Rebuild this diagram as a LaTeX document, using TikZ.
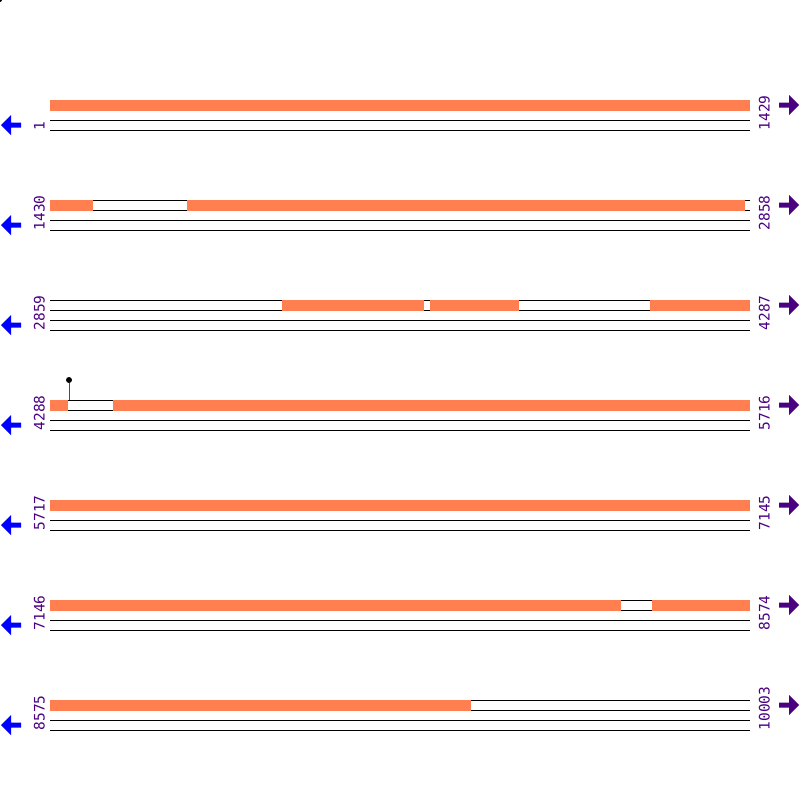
\documentclass[tikz,border=0pt]{standalone}
\usepackage{fontspec}
\setmonofont{DejaVu Sans Mono}
\usetikzlibrary{positioning}
\definecolor{orfcol}{HTML}{FF7F50}
\definecolor{poscol}{HTML}{4B0082}

\begin{document}
\begin{tikzpicture}[
   x=1pt,y=-1pt,
   strand/.style={draw=black,line width=1pt},
   orf/.style={fill=orfcol},
   coordlbl/.style={font=\ttfamily\fontsize{14.5}{14.5}\selectfont,text=poscol,
               rotate=90,anchor=base west,inner sep=0pt},
   fwd/.style={fill=poscol},
   rev/.style={fill=blue}
 ]
  \useasboundingbox (0,0) rectangle (800,800);
  \fill (0,0) circle (2);
  % seven rows of 1429 bp
  \foreach \r/\a/\b in {1/1/1429,2/1430/2858,3/2859/4287,4/4288/5716,
                        5/5717/7145,6/7146/8574,7/8575/10003}{
    \pgfmathtruncatemacro\y{100*\r}
    \foreach \d in {0,10,20,30}
      \draw[strand] (50,\y+\d) -- (750,\y+\d);
    \node[coordlbl] (start\r) at (44.5,\y+30.5) {\a};
    \node[coordlbl] (end\r) at (769.5,\y+30.5) {\b};
    \fill[rev] (1,\y+25) -- (11,\y+15) -- (11,\y+22.5) -- (21,\y+22.5)
       -- (21,\y+27.5) -- (11,\y+27.5) -- (11,\y+35) -- cycle;
    \fill[fwd] (799,\y+5) -- (789,\y-5) -- (789,\y+2.5) -- (779,\y+2.5)
       -- (779,\y+7.5) -- (789,\y+7.5) -- (789,\y+15) -- cycle;
  }
  % open reading frames
  \foreach \y/\s/\e in {100/50/750,200/50/93,200/187/745,300/282/424,
                        300/430/519,300/650/750,400/50/68,400/113/750,
                        500/50/750,600/50/621,600/652/750,700/50/471}
    \fill[orf] (\s,\y-0.5) rectangle (\e,\y+10.5);
  \node[circle,fill,inner sep=0pt,minimum size=6pt] (site) at (69,380) {};
  \draw[red,line width=1pt] (site) -- (69,399.5);
 \end{tikzpicture}
\end{document}
